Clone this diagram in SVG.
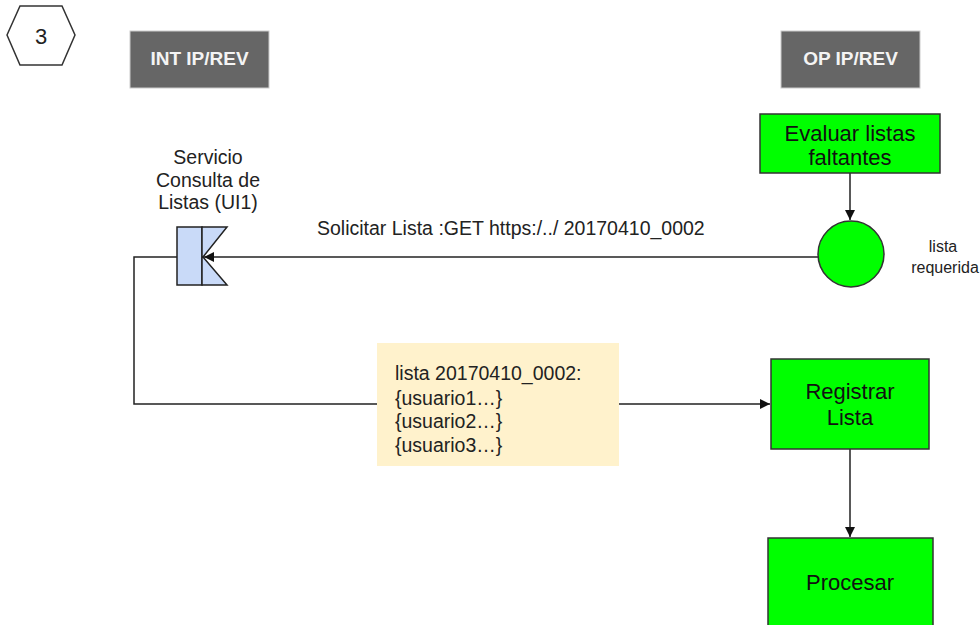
<svg xmlns="http://www.w3.org/2000/svg" width="980" height="625" viewBox="0 0 980 625">
<style>
text{font-family:"Liberation Sans",Arial,sans-serif;fill:#222}
.hdr{fill:#666666;stroke:#cccccc;stroke-width:1}
.hdrt{fill:#f4f4f4;font-weight:bold;font-size:19px;text-anchor:middle}
.proc{fill:#00ff00;stroke:#333333;stroke-width:1.5}
.proct{font-size:22px;text-anchor:middle;fill:#111}
.lbl{font-size:19.5px}
.sm{font-size:16px;text-anchor:middle}
.edge{fill:none;stroke:#222;stroke-width:1.5}
</style>
<defs>
<marker id="ah" viewBox="0 0 10 10" refX="10" refY="5" markerWidth="10" markerHeight="10" markerUnits="userSpaceOnUse" orient="auto">
<path d="M0,0 L10,5 L0,10 z" fill="#111"/>
</marker>
</defs>
<g id="step">
<polygon points="7,35 20,6 62,6 75,35 62,65 20,65" fill="#fff" stroke="#333" stroke-width="1.5"/>
<text x="41" y="44" font-size="22" text-anchor="middle">3</text>
</g>
<g id="int">
<rect class="hdr" x="130" y="31" width="139" height="57"/>
<text class="hdrt" x="199.5" y="65">INT IP/REV</text>
</g>
<g id="op">
<rect class="hdr" x="781" y="31" width="139" height="57"/>
<text class="hdrt" x="850.5" y="65">OP IP/REV</text>
</g>
<g id="connectors">
<line class="edge" x1="850" y1="173" x2="850" y2="220" marker-end="url(#ah)"/>
<line class="edge" x1="818" y1="257" x2="204" y2="257" marker-end="url(#ah)"/>
<polyline class="edge" points="177,257 134,257 134,404 770,404" marker-end="url(#ah)"/>
<line class="edge" x1="850" y1="449" x2="850" y2="537" marker-end="url(#ah)"/>
</g>
<g id="evaluar">
<rect class="proc" x="760" y="114" width="180" height="59"/>
<text class="proct" x="850" y="141">Evaluar listas</text>
<text class="proct" x="850" y="165">faltantes</text>
</g>
<g id="lista-requerida">
<circle cx="851" cy="254" r="33" fill="#00ff00" stroke="#333" stroke-width="1.5"/>
<text class="sm" x="943" y="252">lista</text>
<text class="sm" x="945" y="273">requerida</text>
</g>
<g id="servicio">
<text class="lbl" x="208" y="164" text-anchor="middle">Servicio</text>
<text class="lbl" x="208" y="187" text-anchor="middle">Consulta de</text>
<text class="lbl" x="208" y="209" text-anchor="middle">Listas (UI1)</text>
<rect x="177" y="227" width="25" height="58" fill="#c9daf8" stroke="#222" stroke-width="1.5"/>
<polygon points="202,227 227,227 203,257 227,285 202,285" fill="#c9daf8" stroke="#222" stroke-width="1.5"/>
</g>
<g id="solicitar">
<text class="lbl" x="317" y="235">Solicitar Lista :GET https:/../ 20170410_0002</text>
</g>
<g id="nota">
<rect x="377" y="343" width="242" height="123" fill="#fff2cc"/>
<text class="lbl" x="395" y="380">lista 20170410_0002:</text>
<text class="lbl" x="395" y="405">{usuario1…}</text>
<text class="lbl" x="395" y="428">{usuario2…}</text>
<text class="lbl" x="395" y="452">{usuario3…}</text>
</g>
<g id="registrar">
<rect class="proc" x="771" y="359" width="158" height="90"/>
<text class="proct" x="850" y="399">Registrar</text>
<text class="proct" x="850" y="425">Lista</text>
</g>
<g id="procesar">
<rect class="proc" x="768" y="538" width="165" height="100"/>
<text class="proct" x="850" y="590">Procesar</text>
</g>
</svg>
